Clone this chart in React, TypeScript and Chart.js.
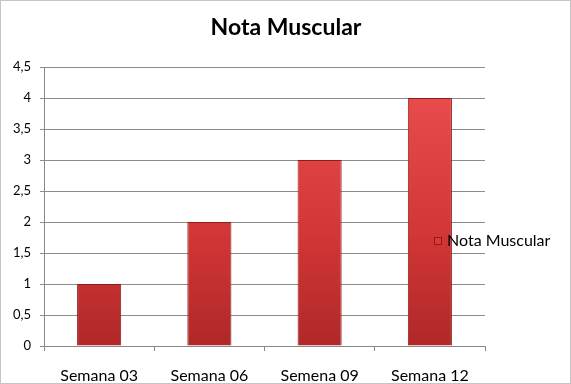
import React, { useEffect, useRef } from "react";
import { Chart, registerables } from "chart.js";

Chart.register(...registerables);

const categories = ["Semana 03", "Semana 06", "Semena 09", "Semana 12"];
const notaMuscular = [1, 2, 3, 4];
const seriesLabel = "Nota Muscular";
const chartTitle = "Nota Muscular";

const FONT = "Lato, 'Open Sans', sans-serif";

export default function App() {
  const ref = useRef<HTMLCanvasElement>(null);

  useEffect(() => {
    if (!ref.current) return;
    const decorations = {
      id: "decorations",
      afterDraw(chart: any) {
        const ctx = chart.ctx;
        ctx.save();
        // border
        ctx.strokeStyle = "#8a8a8a";
        ctx.lineWidth = 1;
        ctx.setLineDash([1, 1]);
        ctx.strokeRect(0.5, 0.5, chart.width - 1, chart.height - 1);
        ctx.setLineDash([]);
        // title
        ctx.fillStyle = "#000";
        ctx.font = `bold 23px ${FONT}`;
        ctx.textAlign = "center";
        ctx.textBaseline = "middle";
        ctx.fillText(chartTitle, 286, 28);
        // legend marker
        ctx.fillStyle = "#d83a3a";
        ctx.fillRect(434, 237, 8, 8);
        ctx.strokeStyle = "#8c1c1c";
        ctx.lineWidth = 1;
        ctx.strokeRect(434.5, 237.5, 7, 7);
        // legend text
        ctx.fillStyle = "#000";
        ctx.font = `16px ${FONT}`;
        ctx.textAlign = "left";
        ctx.textBaseline = "middle";
        ctx.fillText(seriesLabel, 447, 241);
        ctx.restore();
      },
    };

    const chart = new Chart(ref.current, {
      type: "bar",
      data: {
        labels: categories,
        datasets: [
          {
            label: seriesLabel,
            data: notaMuscular,
            backgroundColor: (c: any) => {
              const area = c.chart.chartArea;
              if (!area) return "#d03030";
              const g = c.chart.ctx.createLinearGradient(0, area.top, 0, area.bottom);
              g.addColorStop(0, "#ee5050");
              g.addColorStop(0.6, "#d23636");
              g.addColorStop(1, "#b02828");
              return g;
            },
            borderColor: "#8a1e1e",
            borderWidth: 1,
            categoryPercentage: 1,
            barPercentage: 0.4,
          },
        ],
      },
      options: {
        responsive: false,
        animation: false,
        layout: { padding: { top: 67, right: 86, bottom: 0, left: 0 } },
        plugins: {
          legend: { display: false },
          title: { display: false },
          tooltip: { enabled: false },
        },
        scales: {
          x: {
            grid: {
              drawOnChartArea: false,
              tickLength: 5,
              color: "#888",
            },
            border: { color: "#888" },
            ticks: {
              color: "#000",
              font: { family: FONT, size: 16 },
              padding: 15,
              maxRotation: 0,
            },
            afterFit(scale: any) {
              scale.height = 38;
            },
          },
          y: {
            min: 0,
            max: 4.5,
            ticks: {
              stepSize: 0.5,
              color: "#000",
              font: { family: FONT, size: 13 },
              padding: 9,
              callback: (v: any) => String(v).replace(".", ","),
            },
            grid: { color: "#8c8c8c", tickLength: 4 },
            border: { color: "#888" },
            afterFit(scale: any) {
              scale.width = 44;
            },
          },
        },
      },
      plugins: [decorations],
    });
    return () => chart.destroy();
  }, []);

  return (
    <div style={{ position: "absolute", left: 0, top: 0, width: 571, height: 384, background: "#fff" }}>
      <canvas ref={ref} width={571} height={384} style={{ width: 571, height: 384, display: "block" }} />
    </div>
  );
}
